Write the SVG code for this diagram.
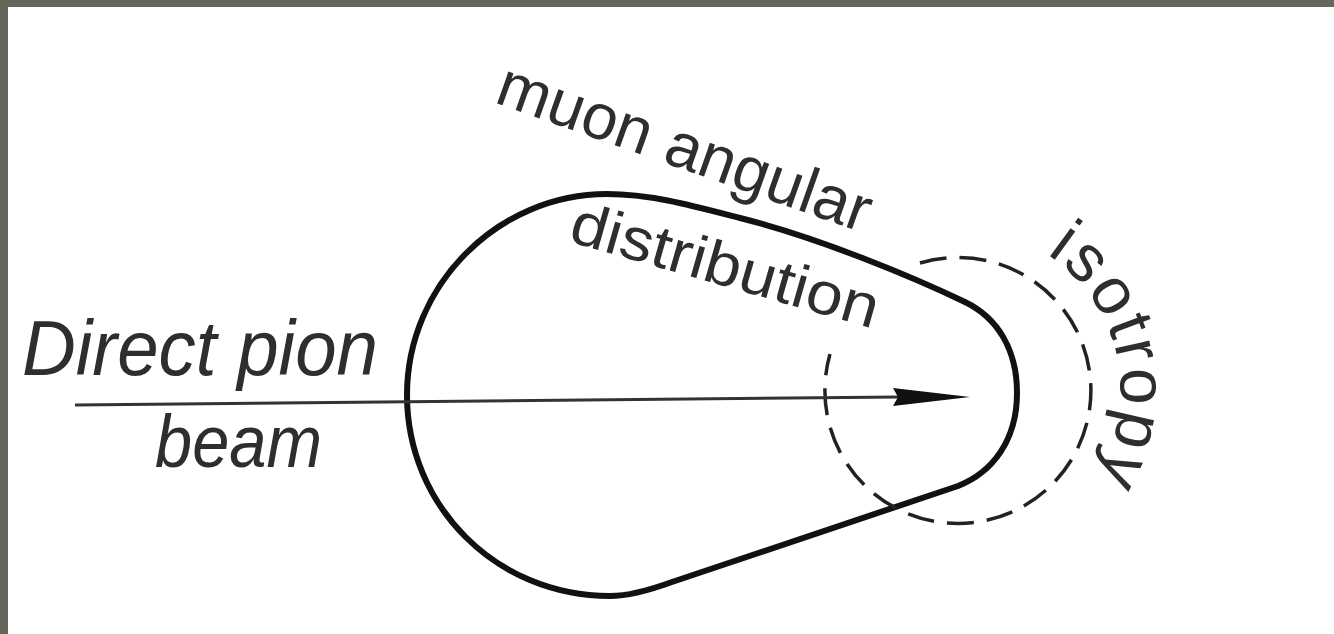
<svg xmlns="http://www.w3.org/2000/svg" width="1334" height="634" viewBox="0 0 1334 634">
<style>
.lbl{font-family:"Liberation Sans","DejaVu Sans",sans-serif;fill:#2e2e2e}
.it{font-style:italic}
.outline{fill:none;stroke:#111;stroke-width:6;stroke-linejoin:round}
.dash{fill:none;stroke:#222;stroke-width:3.5;stroke-dasharray:27 13}
.beam{fill:none;stroke:#333;stroke-width:3}
</style>
<defs>
<path id="isoPath" d="M 1039.5,249.8 A 163 163 0 0 1 1073,506"/>
</defs>
<rect x="0" y="0" width="1334" height="634" fill="#ffffff"/>
<rect x="0" y="0" width="1334" height="7" fill="#66675a"/>
<rect x="0" y="0" width="8" height="634" fill="#66675a"/>

<g id="distribution-shape">
<path class="outline" d="M 607,194 C 498,194 407,285 407,395 C 407,505 495,596 610,596 C 630,596 650,590 672,582 L 958,486 C 993,472 1017,440 1017,393 C 1017,350 998,318 965,302 C 915,278 820,238 740,218 C 690,205 650,194 607,194 Z"/>
</g>

<g id="isotropy-circle">
<path class="dash" d="M 920,263 A 133 133 0 1 1 830,354"/>
</g>

<g id="connectors">
<path class="beam" d="M 75,405 L 900,397"/>
<polygon points="970,397 893,388 898,397 893,406" fill="#111"/>
</g>

<g id="label-beam">
<text class="lbl it" x="22" y="375" font-size="78" textLength="356" lengthAdjust="spacingAndGlyphs">Direct pion</text>
<text class="lbl it" x="155" y="467" font-size="74" textLength="167" lengthAdjust="spacingAndGlyphs">beam</text>
</g>

<g id="label-muon">
<text class="lbl" font-size="64" transform="translate(493,102) rotate(19.5)" textLength="392" lengthAdjust="spacingAndGlyphs">muon angular</text>
<text class="lbl" font-size="60" transform="translate(567,241) rotate(16)" textLength="318" lengthAdjust="spacingAndGlyphs">distribution</text>
</g>

<g id="label-isotropy">
<text class="lbl" font-size="66" letter-spacing="3"><textPath href="#isoPath" startOffset="8">isotropy</textPath></text>
</g>
</svg>
